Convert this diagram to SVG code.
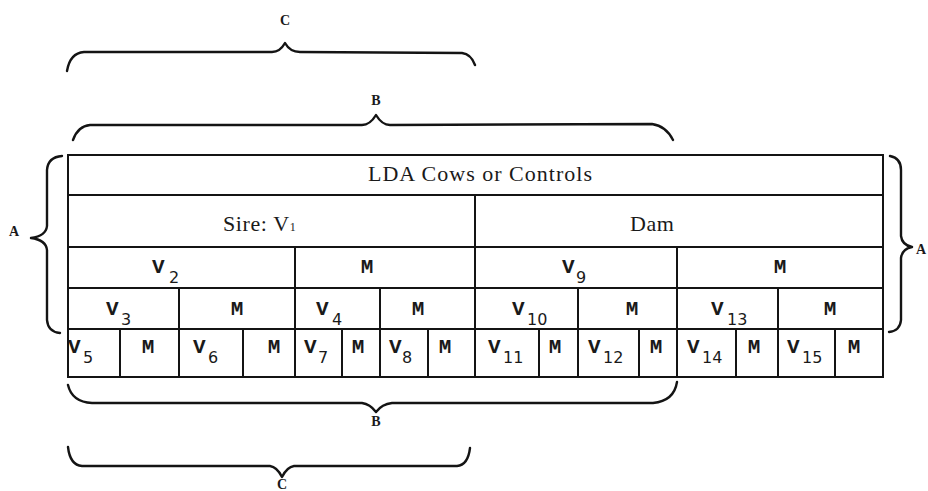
<svg xmlns="http://www.w3.org/2000/svg" width="928" height="491" viewBox="0 0 928 491">
<style>
.ln{stroke:#141414;stroke-width:2;fill:none;stroke-linecap:square}
.br{stroke:#141414;stroke-width:2.4;fill:none;stroke-linecap:round;stroke-linejoin:round}
.ser{font-family:"Liberation Serif","Times New Roman",serif;fill:#1a1a1a}
.mono{font-family:"Liberation Mono","Courier New",monospace;font-weight:bold;font-size:21px;fill:#1a1a1a}
.sub{font-family:"DejaVu Sans","Liberation Sans",sans-serif;font-size:16px;fill:#1a1a1a}
.lab{font-family:"Liberation Serif","Times New Roman",serif;font-weight:bold;font-size:14px;fill:#1a1a1a}
</style>
<rect width="928" height="491" fill="#fff"/>
<g id="connectors">
<path class="br" d="M67,71 Q70,53 84,52 L272,52 Q280,52 285,43 Q290,52 300,52 L462,53 Q471,54 475,65"/>
<path class="br" d="M73,140 Q78,126 90,125 L362,125 Q370,125 376,115 Q382,125 390,125 L652,124 Q666,126 673,140"/>
<path class="br" d="M62,156 Q48,157 47,170 L47,226 Q46,236 31,238 Q46,240 47,250 L47,320 Q48,332 60,333"/>
<path class="br" d="M890,156 Q901,158 901,170 L901,236 Q902,245 912,247 Q902,249 901,258 L901,320 Q900,331 889,332"/>
<path class="br" d="M68,385 Q72,402 92,403 L362,403 Q370,404 376,412 Q382,404 392,403 L653,403 Q674,401 677,382"/>
<path class="br" d="M68,447 Q70,465 82,466 L270,466 Q277,467 282,477 Q287,467 294,466 L457,466 Q468,465 470,448"/>
</g>
<g id="labels">
<text class="lab" x="285" y="25" text-anchor="middle">C</text>
<text class="lab" x="376" y="105" text-anchor="middle">B</text>
<text class="lab" x="14" y="236" text-anchor="middle">A</text>
<text class="lab" x="916" y="254" font-size="13">A</text>
<text class="lab" x="376" y="426" text-anchor="middle">B</text>
<text class="lab" x="282" y="489" text-anchor="middle" font-size="12">C</text>
</g>
<g id="grid">
<path class="ln" d="M68,155 H883 M68,195 H883 M68,247 H883 M68,288 H883 M68,329 H883 M68,377 H883"/>
<path class="ln" d="M68,155 V377 M883,155 V377 M475,195 V377 M295,247 V377 M677,247 V377"/>
<path class="ln" d="M179,288 V377 M380,288 V377 M578,288 V377 M778,288 V377"/>
<path class="ln" d="M120,329 V377 M243,329 V377 M342,329 V377 M428,329 V377 M539,329 V377 M639,329 V377 M736,329 V377 M835,329 V377"/>
</g>
<g id="row1"><text class="ser" x="368" y="181" font-size="22" textLength="224" lengthAdjust="spacing">LDA Cows or Controls</text></g>
<g id="row2">
<text class="ser" x="223" y="231" font-size="22" letter-spacing="0.6">Sire: V<tspan font-size="12">1</tspan></text>
<text class="ser" x="630" y="231" font-size="22" letter-spacing="0.5">Dam</text>
</g>
<g id="row3">
<text class="mono" x="152" y="273">V</text><text class="sub" x="169" y="283">2</text>
<text class="mono" x="367" y="273" text-anchor="middle">M</text>
<text class="mono" x="562" y="273">V</text><text class="sub" x="576" y="283">9</text>
<text class="mono" x="780" y="273" text-anchor="middle">M</text>
</g>
<g id="row4">
<text class="mono" x="106" y="315">V</text><text class="sub" x="121" y="325">3</text>
<text class="mono" x="237" y="315" text-anchor="middle">M</text>
<text class="mono" x="316" y="315">V</text><text class="sub" x="332" y="325">4</text>
<text class="mono" x="418" y="315" text-anchor="middle">M</text>
<text class="mono" x="512" y="315">V</text><text class="sub" x="527" y="325">10</text>
<text class="mono" x="632" y="315" text-anchor="middle">M</text>
<text class="mono" x="711" y="315">V</text><text class="sub" x="727" y="325">13</text>
<text class="mono" x="830" y="315" text-anchor="middle">M</text>
</g>
<g id="row5">
<text class="mono" x="68" y="353">V</text><text class="sub" x="83" y="363">5</text>
<text class="mono" x="148" y="353" text-anchor="middle">M</text>
<text class="mono" x="193" y="353">V</text><text class="sub" x="208" y="363">6</text>
<text class="mono" x="274" y="353" text-anchor="middle">M</text>
<text class="mono" x="304" y="353">V</text><text class="sub" x="318" y="363">7</text>
<text class="mono" x="358" y="353" text-anchor="middle">M</text>
<text class="mono" x="389" y="353">V</text><text class="sub" x="402" y="363">8</text>
<text class="mono" x="445" y="353" text-anchor="middle">M</text>
<text class="mono" x="488" y="353">V</text><text class="sub" x="503" y="363">11</text>
<text class="mono" x="555" y="353" text-anchor="middle">M</text>
<text class="mono" x="588" y="353">V</text><text class="sub" x="603" y="363">12</text>
<text class="mono" x="656" y="353" text-anchor="middle">M</text>
<text class="mono" x="687" y="353">V</text><text class="sub" x="702" y="363">14</text>
<text class="mono" x="754" y="353" text-anchor="middle">M</text>
<text class="mono" x="787" y="353">V</text><text class="sub" x="802" y="363">15</text>
<text class="mono" x="854" y="353" text-anchor="middle">M</text>
</g>
</svg>
